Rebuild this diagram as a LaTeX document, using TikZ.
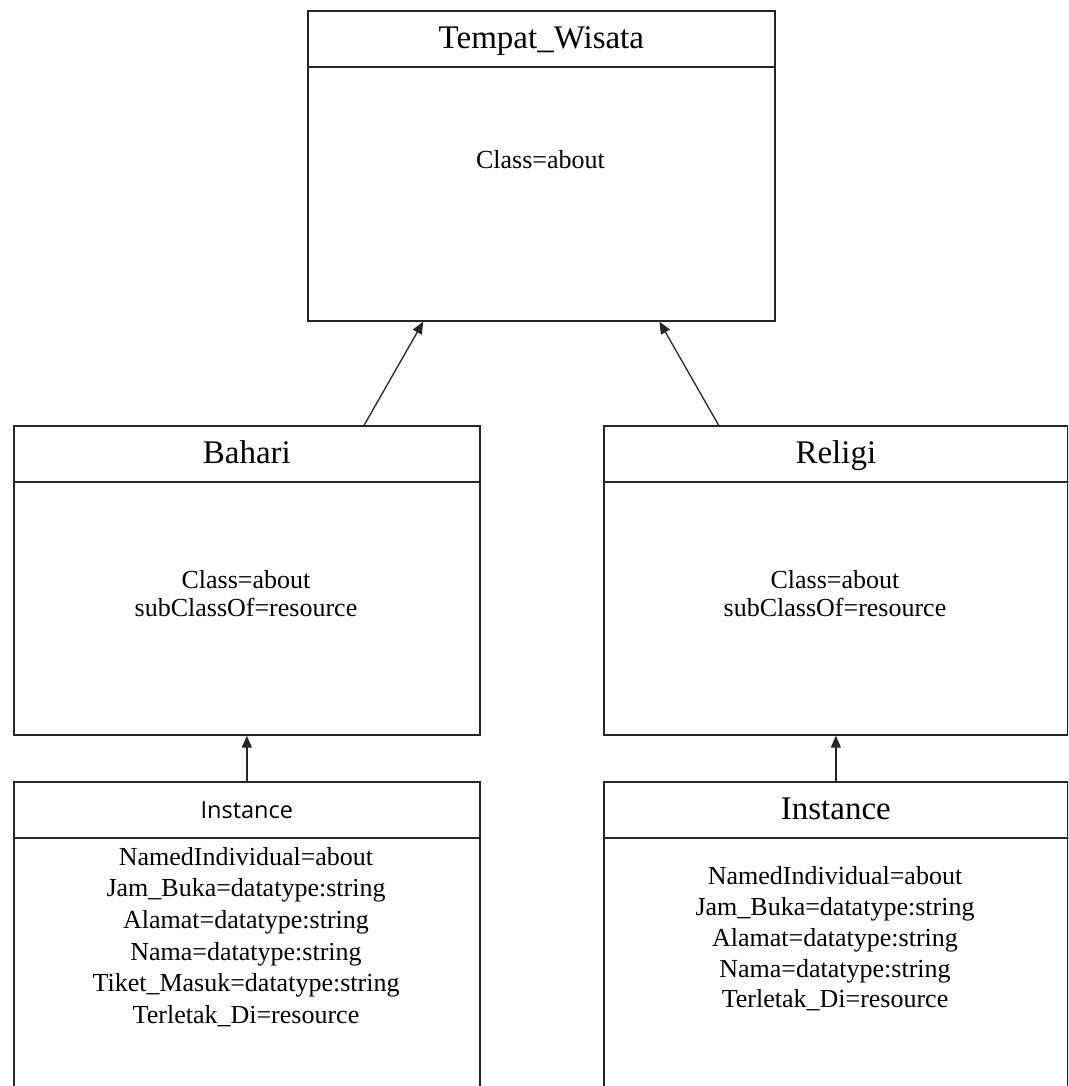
\documentclass[tikz,border=0pt]{standalone}
\usepackage{fontspec}
\setmainfont{Liberation Serif}
\newfontfamily\instfont{Open Sans}
\usetikzlibrary{arrows.meta,calc}

\tikzset{
  boxline/.style={draw=black!85, line width=1.7pt},
  part/.style={boxline, rectangle, inner sep=0pt, anchor=north west},
  headfont/.style={font=\fontsize{33}{38}\selectfont, text height=27pt, text depth=7pt},
  bodyfont/.style={font=\fontsize{26}{28}\selectfont},
  bodytext/.style={align=center, inner sep=0pt},
  link/.style={draw=black!85, line width=1.3pt, -{Triangle[length=12pt,width=10pt]}},
}

\begin{document}
\begin{tikzpicture}[x=1pt,y=-1pt]
  \useasboundingbox (0,0) rectangle (1068,1086);
  \clip (0,0) rectangle (1068,1086);

  % Tempat_Wisata
  \node[part, headfont, minimum width=467pt, minimum height=56pt] (thead) at (307,10) {Tempat\_Wisata};
  \node[part, minimum width=467pt, minimum height=254pt] (tbody) at (307,66) {};
  \node[bodytext, bodyfont] (ttext) at (540.5,160) {Class=about};

  % Bahari
  \node[part, headfont, minimum width=466pt, minimum height=56pt] (bhead) at (13,425) {Bahari};
  \node[part, minimum width=466pt, minimum height=253pt] (bbody) at (13,481) {};
  \node[bodytext, bodyfont] (btext) at (246,594) {Class=about\\subClassOf=resource};

  % Religi
  \node[part, headfont, minimum width=464pt, minimum height=56pt] (rhead) at (603,425) {Religi};
  \node[part, minimum width=464pt, minimum height=253pt] (rbody) at (603,481) {};
  \node[bodytext, bodyfont] (rtext) at (835,594) {Class=about\\subClassOf=resource};

  % Instance of Bahari (open at the bottom)
  \node[part, font=\instfont\fontsize{23.5}{28}\selectfont, minimum width=466pt, minimum height=56pt] (ihead1) at (13,781) {Instance};
  \node[part, minimum width=466pt, minimum height=300pt] (ibody1) at (13,837) {};
  \node[bodytext, font=\fontsize{26}{31.6}\selectfont] (itext1) at (246,937)
    {NamedIndividual=about\\Jam\_Buka=datatype:string\\Alamat=datatype:string\\Nama=datatype:string\\Tiket\_Masuk=datatype:string\\Terletak\_Di=resource};

  % Instance of Religi (open at the bottom)
  \node[part, headfont, minimum width=464pt, minimum height=56pt] (ihead2) at (603,781) {Instance};
  \node[part, minimum width=464pt, minimum height=300pt] (ibody2) at (603,837) {};
  \node[bodytext, font=\fontsize{26}{30.8}\selectfont] (itext2) at (835,939)
    {NamedIndividual=about\\Jam\_Buka=datatype:string\\Alamat=datatype:string\\Nama=datatype:string\\Terletak\_Di=resource};

  % subclass links
  \coordinate (bfrom) at ($(bhead.north west)!0.751!(bhead.north east)$);
  \coordinate (bto)   at ($(tbody.south west)!0.248!(tbody.south east)$);
  \coordinate (rfrom) at ($(rhead.north west)!0.248!(rhead.north east)$);
  \coordinate (rto)   at ($(tbody.south west)!0.752!(tbody.south east)$);
  \draw[link] (bfrom) -- (bto);
  \draw[link] (rfrom) -- (rto);

  % instance links
  \draw[link] (ihead1.north) -- (bbody.south);
  \draw[link] (ihead2.north) -- (rbody.south);
\end{tikzpicture}
\end{document}
